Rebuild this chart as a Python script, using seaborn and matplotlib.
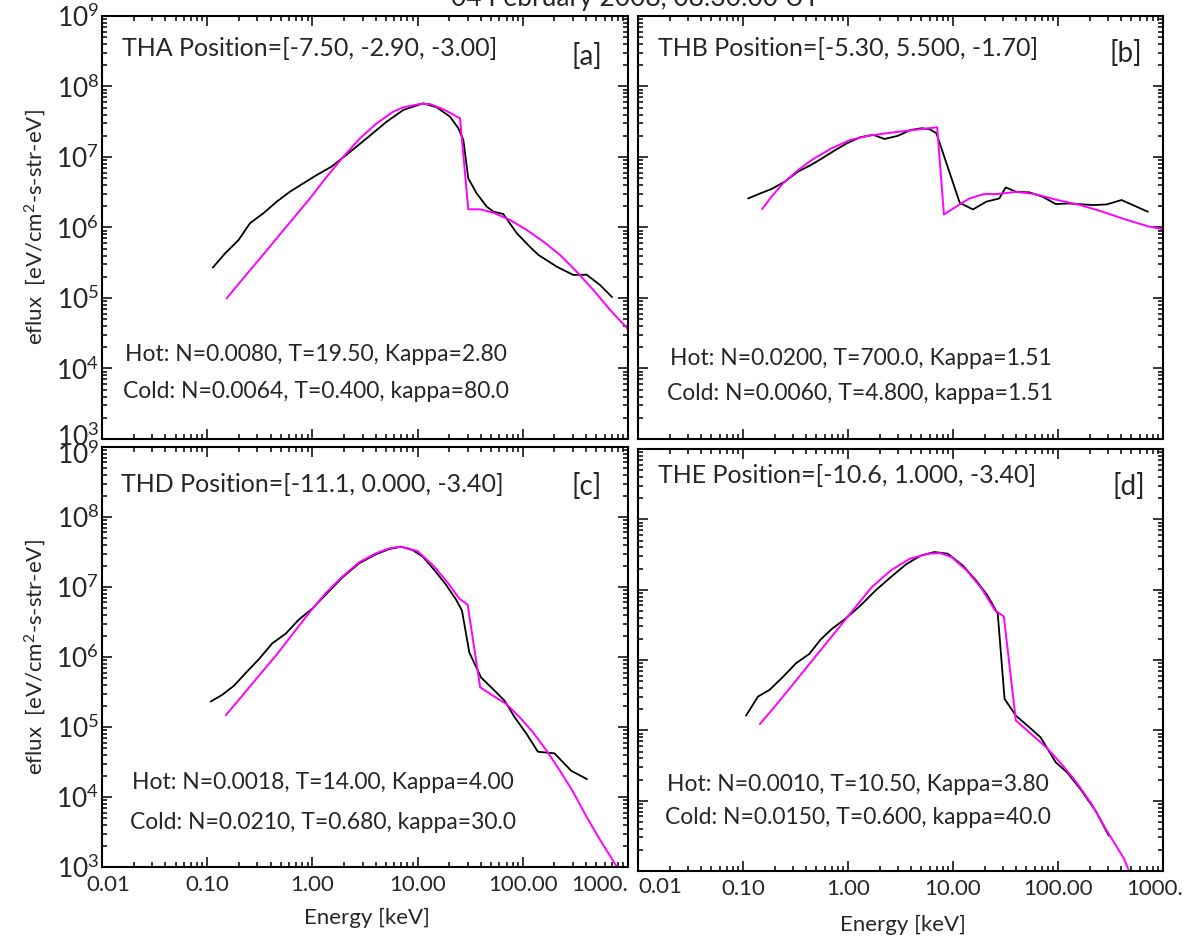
import numpy as np
import pandas as pd
import matplotlib
matplotlib.use("Agg")
import matplotlib.pyplot as plt
import matplotlib.ticker as mticker
import matplotlib.transforms as mtrans
import seaborn as sns

# ---------------- data ----------------
tha_obs_energy = [0.113, 0.148, 0.198, 0.255, 0.342, 0.457, 0.612, 0.82, 1.10, 1.52, 2.20, 3.28,
                  5.08, 7.31, 11.3, 15.2, 20.3, 24.4, 27.2, 30.3, 36.4, 45.4, 52.5, 65.3, 87.5,
                  117, 141, 210, 302, 404, 541, 705]
tha_obs_eflux = [2.7e5, 4.3e5, 6.6e5, 1.15e6, 1.59e6, 2.32e6, 3.22e6, 4.23e6, 5.55e6, 7.3e6,
                 1.13e7, 1.84e7, 3.17e7, 4.64e7, 5.77e7, 5.06e7, 3.73e7, 2.55e7, 1.74e7, 4.98e6,
                 3.05e6, 1.97e6, 1.68e6, 1.55e6, 8.3e5, 5.3e5, 4.07e5, 2.78e5, 2.12e5, 2.14e5,
                 1.53e5, 1.03e5]
tha_fit_energy = [0.153, 0.220, 0.318, 0.457, 0.659, 0.948, 1.37, 1.97, 2.83, 4.08, 5.88, 7.31,
                  10.5, 13.1, 17.6, 25.3, 30.3, 39.2, 52.5, 75.5, 109, 157, 226, 325, 468, 674, 1000]
tha_fit_eflux = [9.9e4, 1.9e5, 3.65e5, 7.0e5, 1.35e6, 2.59e6, 5.26e6, 1.01e7, 1.84e7, 3.0e7,
                 4.4e7, 5.06e7, 5.64e7, 5.64e7, 4.74e7, 3.53e7, 1.81e6, 1.81e6, 1.62e6, 1.28e6,
                 9.2e5, 6.3e5, 4.07e5, 2.36e5, 1.30e5, 6.8e4, 3.6e4]

thb_obs_energy = [0.112, 0.146, 0.187, 0.250, 0.334, 0.445, 0.570, 0.762, 0.975, 1.30, 1.74,
                  2.23, 2.97, 3.97, 5.08, 6.0, 6.95, 11.6, 15.5, 20.7, 27.6, 31.8, 40.0, 53.4,
                  71.3, 95.1, 127, 217, 290, 403, 719]
thb_obs_eflux = [2.58e6, 3.04e6, 3.51e6, 4.46e6, 6.2e6, 7.7e6, 9.6e6, 1.26e7, 1.56e7, 1.9e7,
                 2.06e7, 1.80e7, 1.99e7, 2.42e7, 2.56e7, 2.47e7, 2.17e7, 2.24e6, 1.80e6, 2.32e6,
                 2.58e6, 3.7e6, 3.2e6, 3.15e6, 2.73e6, 2.15e6, 2.19e6, 2.08e6, 2.12e6, 2.45e6,
                 1.67e6]
thb_fit_energy = [0.152, 0.187, 0.240, 0.334, 0.464, 0.701, 1.06, 1.60, 2.62, 4.31, 7.07, 8.2,
                  10.7, 14.3, 19.8, 26.5, 40.0, 60.4, 99, 163, 267, 438, 719, 1000]
thb_fit_eflux = [1.82e6, 2.73e6, 4.2e6, 6.5e6, 9.3e6, 1.33e7, 1.75e7, 2.01e7, 2.22e7, 2.42e7,
                 2.64e7, 1.53e6, 1.97e6, 2.58e6, 2.98e6, 2.98e6, 3.2e6, 2.98e6, 2.45e6, 2.08e6,
                 1.67e6, 1.30e6, 1.04e6, 9.4e5]

thd_obs_energy = [0.108, 0.139, 0.180, 0.232, 0.310, 0.416, 0.557, 0.746, 1.0, 1.34, 1.93, 2.78,
                  4.01, 5.37, 6.93, 8.96, 11.2, 14.4, 18.6, 23.2, 26.4, 31.0, 40.1, 51.8, 66.8,
                  83.3, 108, 139, 200, 289, 407]
thd_obs_eflux = [2.31e5, 2.88e5, 3.9e5, 5.9e5, 9.3e5, 1.57e6, 2.15e6, 3.44e6, 4.92e6, 7.8e6,
                 1.37e7, 2.18e7, 2.93e7, 3.48e7, 3.76e7, 3.37e7, 2.71e7, 1.75e7, 1.08e7, 6.6e6,
                 4.6e6, 1.16e6, 5.1e5, 3.5e5, 2.39e5, 1.39e5, 8.05e4, 4.43e4, 4.2e4, 2.36e4, 1.8e4]
thd_fit_energy = [0.150, 0.216, 0.310, 0.448, 0.645, 0.929, 1.34, 1.93, 2.78, 4.01, 5.37, 6.93,
                  10.0, 14.4, 20.0, 24.9, 29.9, 39.3, 51.8, 69.3, 92.9, 124, 167, 223, 299, 401,
                  537, 622, 785, 900]
thd_fit_eflux = [1.47e5, 2.81e5, 5.4e5, 1.04e6, 2.1e6, 4.27e6, 8.2e6, 1.41e7, 2.25e7, 3.02e7,
                 3.56e7, 3.76e7, 3.26e7, 1.95e7, 1.08e7, 6.8e6, 5.6e6, 3.69e5, 2.81e5, 2.14e5,
                 1.39e5, 8.5e4, 4.68e4, 2.43e4, 1.2e4, 5.3e3, 2.5e3, 1.75e3, 1.0e3, 7.0e2]

the_obs_energy = [0.107, 0.139, 0.179, 0.239, 0.320, 0.428, 0.550, 0.705, 0.944, 1.32, 1.83,
                  2.56, 3.57, 4.97, 6.66, 8.9, 12.4, 16.6, 21.3, 26.7, 31.0, 39.7, 53.2, 68.2,
                  95.1, 122, 163, 228, 305]
the_obs_eflux = [1.62e5, 3.02e5, 3.76e5, 5.7e5, 9.0e5, 1.22e6, 1.96e6, 2.78e6, 3.86e6, 5.97e6,
                 9.76e6, 1.51e7, 2.29e7, 3.07e7, 3.43e7, 3.25e7, 2.21e7, 1.35e7, 8.3e6, 4.54e6,
                 2.8e5, 1.62e5, 1.11e5, 7.97e4, 3.52e4, 2.53e4, 1.47e4, 7.2e3, 3.18e3]
the_fit_energy = [0.145, 0.211, 0.320, 0.485, 0.735, 1.11, 1.69, 2.56, 3.87, 5.87, 7.54, 9.68,
                  13.5, 18.8, 25.2, 30.5, 39.7, 55.4, 77.3, 108, 150, 209, 292, 425, 475, 560]
the_fit_eflux = [1.23e5, 2.38e5, 5.1e5, 1.10e6, 2.36e6, 5.07e6, 1.09e7, 1.88e7, 2.75e7, 3.25e7,
                 3.32e7, 2.91e7, 1.88e7, 1.03e7, 5.07e6, 4.16e6, 1.38e5, 8.9e4, 5.74e4, 3.33e4,
                 1.82e4, 8.97e3, 3.74e3, 1.5e3, 1.0e3, 6.5e2]

probe_names = ["THA", "THB", "THD", "THE"]
probe_positions = ["[-7.50, -2.90, -3.00]", "[-5.30, 5.500, -1.70]",
                   "[-11.1, 0.000, -3.40]", "[-10.6, 1.000, -3.40]"]
hot_params = ["Hot: N=0.0080, T=19.50, Kappa=2.80", "Hot: N=0.0200, T=700.0, Kappa=1.51",
              "Hot: N=0.0018, T=14.00, Kappa=4.00", "Hot: N=0.0010, T=10.50, Kappa=3.80"]
cold_params = ["Cold: N=0.0064, T=0.400, kappa=80.0", "Cold: N=0.0060, T=4.800, kappa=1.51",
               "Cold: N=0.0210, T=0.680, kappa=30.0", "Cold: N=0.0150, T=0.600, kappa=40.0"]
panel_letters = ["[a]", "[b]", "[c]", "[d]"]

x_ticks = [0.01, 0.1, 1.0, 10.0, 100.0, 1000.0]
x_tick_labels = ["0.01", "0.10", "1.00", "10.00", "100.00", "1000."]
y_ticks = [1e3, 1e4, 1e5, 1e6, 1e7, 1e8, 1e9]
y_tick_labels = [r"$10^{3}$", r"$10^{4}$", r"$10^{5}$", r"$10^{6}$", r"$10^{7}$",
                 r"$10^{8}$", r"$10^{9}$"]
fig_title = "04 February 2008, 08:30:00 UT"

# ---------------- style ----------------
sns.set_style("ticks")
FONT = "Lato"
plt.rcParams["font.family"] = [FONT, "DejaVu Sans"]
plt.rcParams["mathtext.fontset"] = "custom"
plt.rcParams["mathtext.rm"] = FONT
plt.rcParams["mathtext.it"] = FONT + ":italic"
plt.rcParams["mathtext.bf"] = FONT + ":bold"
plt.rcParams["mathtext.default"] = "regular"

fig = plt.figure(figsize=(11.96, 9.39), dpi=100)
fig.patch.set_facecolor("white")

rects = [[0.0853, 0.5325, 0.4398, 0.4505],
         [0.5334, 0.5325, 0.4390, 0.4505],
         [0.0853, 0.0767, 0.4398, 0.4473],
         [0.5334, 0.0724, 0.4390, 0.4494]]

obs = [(tha_obs_energy, tha_obs_eflux), (thb_obs_energy, thb_obs_eflux),
       (thd_obs_energy, thd_obs_eflux), (the_obs_energy, the_obs_eflux)]
fits = [(tha_fit_energy, tha_fit_eflux), (thb_fit_energy, thb_fit_eflux),
        (thd_fit_energy, thd_fit_eflux), (the_fit_energy, the_fit_eflux)]

# text placement (axes fraction)
title_xy = [(0.038, 0.924), (0.039, 0.924), (0.036, 0.910), (0.0375, 0.937)]
letter_xy = [(0.922, 0.903), (0.930, 0.912), (0.922, 0.905), (0.935, 0.912)]
hot_xy = [(0.044, 0.199), (0.062, 0.190), (0.057, 0.200), (0.056, 0.205)]
cold_xy = [(0.040, 0.113), (0.056, 0.108), (0.053, 0.105), (0.051, 0.128)]
xlabel_y = {2: -0.098, 3: -0.104}


def shift(label, dx_px, dy_px):
    label.set_transform(label.get_transform() +
                        mtrans.ScaledTranslation(dx_px / 100, dy_px / 100, fig.dpi_scale_trans))


for i in range(4):
    ax = fig.add_axes(rects[i])
    ax.set_xscale("log")
    ax.set_yscale("log")
    ax.set_xlim(0.01, 1000)
    ax.set_ylim(1e3, 1e9)

    e, f = obs[i]
    sns.lineplot(data=pd.DataFrame({"energy": e, "eflux": f}), x="energy", y="eflux",
                 ax=ax, color="black", linewidth=1.3, sort=False, estimator=None)
    e, f = fits[i]
    sns.lineplot(data=pd.DataFrame({"energy": e, "eflux": f}), x="energy", y="eflux",
                 ax=ax, color="#ff00ff", linewidth=1.4, sort=False, estimator=None)
    ax.set_xlim(0.01, 1000)
    ax.set_ylim(1e3, 1e9)

    ax.xaxis.set_major_locator(mticker.FixedLocator(x_ticks))
    ax.xaxis.set_minor_locator(mticker.LogLocator(base=10, subs=np.arange(2, 10), numticks=30))
    ax.yaxis.set_major_locator(mticker.FixedLocator(y_ticks))
    ax.yaxis.set_minor_locator(mticker.LogLocator(base=10, subs=np.arange(2, 10), numticks=30))
    ax.xaxis.set_minor_formatter(mticker.NullFormatter())
    ax.yaxis.set_minor_formatter(mticker.NullFormatter())
    ax.tick_params(which="both", direction="in", top=True, right=True, width=1.1, color="black")
    ax.tick_params(which="major", length=7.5)
    ax.tick_params(which="minor", length=3.8)
    for s in ax.spines.values():
        s.set_linewidth(1.5)
        s.set_color("black")

    bottom = i >= 2
    left = i % 2 == 0
    if bottom:
        ax.set_xticklabels(x_tick_labels, fontsize=16)
        ax.tick_params(axis="x", which="major", pad=6)
        ax.set_xlabel("Energy [keV]", fontsize=16)
        ax.xaxis.set_label_coords(0.504, xlabel_y[i])
        ticks = ax.xaxis.get_major_ticks()
        if i == 2:
            shift(ticks[0].label1, 6, 0)
            ticks[-1].label1.set_horizontalalignment("right")
        else:
            ticks[0].label1.set_horizontalalignment("left")
            shift(ticks[0].label1, 0, 2)
            shift(ticks[-1].label1, -8, 0)
    else:
        ax.set_xticklabels([])
        ax.set_xlabel("")
    if left:
        ax.set_yticklabels(y_tick_labels, fontsize=19)
        ax.tick_params(axis="y", which="major", pad=2)
        ax.set_ylabel(r"eflux  [eV/cm$^{2}$-s-str-eV]", fontsize=16)
        ax.yaxis.set_label_coords(-0.102, 0.5)
        yt = ax.yaxis.get_major_ticks()
        if i == 0:
            shift(yt[0].label1, 0, 4)
        else:
            shift(yt[-1].label1, 0, -6)
    else:
        ax.set_yticklabels([])
        ax.set_ylabel("")

    ax.text(title_xy[i][0], title_xy[i][1], f"{probe_names[i]} Position={probe_positions[i]}",
            transform=ax.transAxes, fontsize=18, ha="left", va="center")
    ax.text(letter_xy[i][0], letter_xy[i][1], panel_letters[i], transform=ax.transAxes,
            fontsize=20, ha="center", va="center")
    ax.text(hot_xy[i][0], hot_xy[i][1], hot_params[i], transform=ax.transAxes,
            fontsize=16.5, ha="left", va="center")
    ax.text(cold_xy[i][0], cold_xy[i][1], cold_params[i], transform=ax.transAxes,
            fontsize=16.5, ha="left", va="center")

fig.text(0.531, 1 - 6 / 939, fig_title, fontsize=19, ha="center", va="baseline")

fig.savefig("out.png", dpi=100, facecolor="white")
